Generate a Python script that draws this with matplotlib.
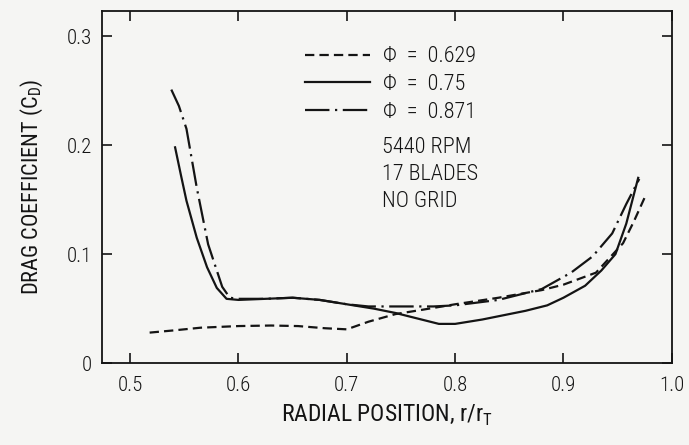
import matplotlib.pyplot as plt
from matplotlib.lines import Line2D

plt.rcParams['font.family'] = ['Roboto Condensed', 'DejaVu Sans']
plt.rcParams['font.weight'] = 'light'
plt.rcParams['font.size'] = 15

# phi = 0.629 (dashed)
r_629 = [0.518, 0.54, 0.565, 0.60, 0.63, 0.655, 0.68, 0.70, 0.72, 0.745, 0.77,
         0.80, 0.84, 0.88, 0.90, 0.93, 0.955, 0.965, 0.975]
cd_629 = [0.028, 0.030, 0.0325, 0.034, 0.0345, 0.034, 0.032, 0.031, 0.038, 0.045, 0.049,
          0.054, 0.060, 0.067, 0.072, 0.083, 0.110, 0.130, 0.152]

# phi = 0.75 (solid)
r_75 = [0.5415, 0.547, 0.552, 0.5615, 0.571, 0.580, 0.589, 0.60, 0.625, 0.65, 0.675,
        0.70, 0.725, 0.745, 0.765, 0.785, 0.80, 0.825, 0.845, 0.865, 0.885, 0.90,
        0.92, 0.935, 0.948, 0.958, 0.969]
cd_75 = [0.198, 0.172, 0.149, 0.115, 0.088, 0.069, 0.059, 0.058, 0.059, 0.060, 0.058,
         0.054, 0.050, 0.046, 0.041, 0.036, 0.036, 0.040, 0.044, 0.048, 0.053, 0.060,
         0.071, 0.085, 0.100, 0.128, 0.170]

# phi = 0.871 (dash-dot)
r_871 = [0.538, 0.545, 0.552, 0.5615, 0.572, 0.578, 0.585, 0.592, 0.60, 0.625, 0.65,
         0.675, 0.70, 0.72, 0.74, 0.76, 0.78, 0.80, 0.84, 0.88, 0.907, 0.927, 0.945,
         0.958, 0.970]
cd_871 = [0.251, 0.236, 0.215, 0.161, 0.109, 0.091, 0.070, 0.060, 0.059, 0.059, 0.060,
          0.058, 0.054, 0.052, 0.052, 0.052, 0.052, 0.053, 0.058, 0.068, 0.083, 0.098,
          0.119, 0.146, 0.169]

x_ticks = [0.5, 0.6, 0.7, 0.8, 0.9, 1.0]
x_labels = ['0.5', '0.6', '0.7', '0.8', '0.9', '1.0']
y_ticks = [0, 0.1, 0.2, 0.3]
y_labels = ['0', '0.1', '0.2', '0.3']
notes = ['5440 RPM', '17 BLADES', 'NO GRID']

ink = '#141414'
bg = '#f5f5f3'
lw = 1.6
dash = (4.2, 2.3)
dashdot = (11.0, 2.5, 1.0, 2.5)

fig = plt.figure(figsize=(6.89, 4.45), dpi=100, facecolor=bg)
ax = fig.add_axes([0.148, 0.184, 0.827, 0.791], facecolor=bg)

ax.plot(r_629, cd_629, color=ink, lw=lw, dashes=dash)
ax.plot(r_75, cd_75, color=ink, lw=lw)
ax.plot(r_871, cd_871, color=ink, lw=lw, dashes=dashdot)

ax.set_xlim(0.474, 1.0)
ax.set_ylim(0, 0.323)
ax.set_xticks(x_ticks)
ax.set_xticklabels(x_labels)
ax.set_yticks(y_ticks)
ax.set_yticklabels(y_labels)
ax.tick_params(direction='in', length=7, width=1.2, color=ink, labelcolor=ink,
               top=True, right=True, labelsize=15)
ax.tick_params(axis='x', pad=9)
ax.tick_params(axis='y', pad=7)
for s in ax.spines.values():
    s.set_linewidth(1.3)
    s.set_color(ink)

ax.set_xlabel(r'RADIAL POSITION, r/r$_\mathregular{T}$', fontsize=17, color=ink, labelpad=6)
ax.set_ylabel(r'DRAG COEFFICIENT (C$_\mathregular{D}$)', fontsize=16, color=ink, labelpad=16)

handles = [
    Line2D([], [], color=ink, lw=lw, dashes=dash),
    Line2D([], [], color=ink, lw=lw),
    Line2D([], [], color=ink, lw=lw, dashes=dashdot),
]
labels = ['\u03a6  =  0.629', '\u03a6  =  0.75', '\u03a6  =  0.871']
leg = ax.legend(handles, labels, loc='upper left', bbox_to_anchor=(0.356, 0.9),
                frameon=False, handlelength=2.95, handletextpad=0.55,
                labelspacing=0.3, fontsize=16, borderaxespad=0, borderpad=0)
for t in leg.get_texts():
    t.set_color(ink)

for i, note in enumerate(notes):
    ax.text(0.491, 0.613 - i * 0.0767, note, transform=ax.transAxes, fontsize=16,
            color=ink, va='center', ha='left')

fig.savefig('out.png', dpi=100, facecolor=bg)
